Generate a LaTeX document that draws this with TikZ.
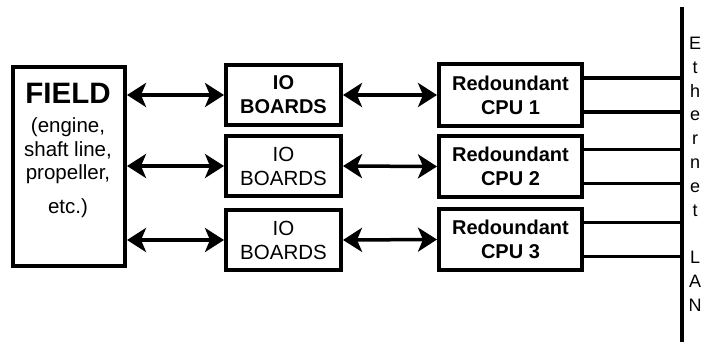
\documentclass[tikz,border=0pt]{standalone}
\usepackage{fontspec}
\setmainfont{Liberation Sans}
\usetikzlibrary{arrows.meta,calc}
\begin{document}
\begin{tikzpicture}[x=1pt,y=-1pt,
  blk/.style={draw, line width=4pt, inner sep=0pt, align=center,
    font=\fontsize{20.5}{24}\selectfont},
  iobox/.style={blk, minimum width=115pt, minimum height=60pt},
  cpubox/.style={blk, minimum width=143pt, minimum height=61pt, font=\fontsize{20}{24}\selectfont\bfseries},
  txt/.style={inner sep=0pt, anchor=base, font=\fontsize{20.5}{24}\selectfont},
  tip/.tip={Stealth[length=19pt,width=24pt,inset=5pt]},
  dbl/.style={line width=3.5pt, tip-tip},
  link/.style={line width=3.5pt},
  bus/.style={line width=4.5pt},
]
\useasboundingbox (0,0) rectangle (706,342);

% field equipment
\node[blk, minimum width=112pt, minimum height=199pt] (field) at (69,166.5) {};
\node[txt, font=\fontsize{29.5}{32}\selectfont\bfseries] (ftitle) at (68,103) {FIELD};
\node[txt] (f1) at (68,132) {(engine,};
\node[txt] (f2) at (68,156) {shaft line,};
\node[txt] (f3) at (68,179) {propeller,};
\node[txt] (f4) at (68,213) {etc.)};

% IO boards
\node[iobox, font=\fontsize{20}{24}\selectfont\bfseries] (io1) at (283.5,95) {IO\\BOARDS};
\node[iobox] (io2) at (283.5,166) {IO\\BOARDS};
\node[iobox] (io3) at (283.5,240) {IO\\BOARDS};

% redundant CPUs
\node[cpubox] (cpu1) at (510.5,95) {Redoundant\\CPU 1};
\node[cpubox] (cpu2) at (510.5,166.5) {Redoundant\\CPU 2};
\node[cpubox] (cpu3) at (510.5,239.5) {Redoundant\\CPU 3};

% Ethernet bus
\coordinate (bustop) at (682,7);
\coordinate (busbot) at (682,342);
\draw[bus] (bustop) -- (busbot);
\foreach \ch/\k in {E/0,t/1,h/2,e/3,r/4,n/5,e/6,t/7,L/9,A/10,N/11}
  \node[inner sep=0pt, anchor=base, font=\fontsize{18}{20}\selectfont]
    (eth\k) at (695,49.5+23.8*\k) {\ch};

% field <-> IO
\foreach \i in {1,2,3}
  \draw[dbl] (io\i.west -| field.east) -- (io\i.west);
% IO <-> CPU
\foreach \i in {1,2,3}
  \draw[dbl] (io\i.east) -- (cpu\i.west);
% CPU -> bus, two links each
\foreach \i in {1,2,3} {
  \draw[link] ($(cpu\i.east)+(0,-17)$) -- ($(cpu\i.east -| bustop)+(0,-17)$);
  \draw[link] ($(cpu\i.east)+(0,17)$) -- ($(cpu\i.east -| bustop)+(0,17)$);
}
\end{tikzpicture}
\end{document}
